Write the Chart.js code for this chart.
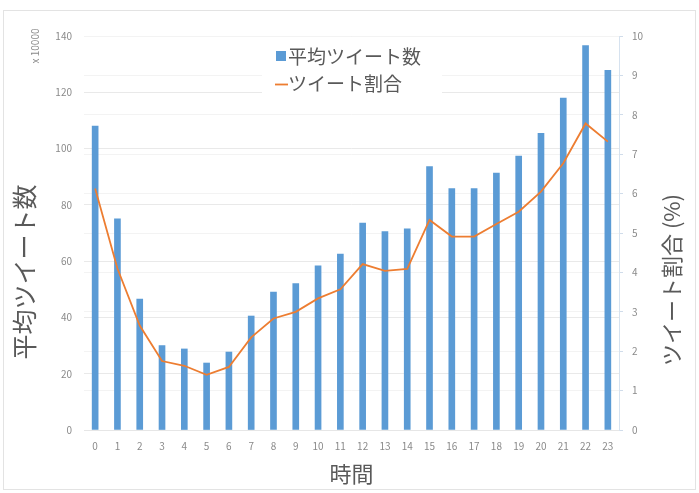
<!DOCTYPE html>
<html>
<head>
<meta charset="utf-8">
<script src="https://cdn.jsdelivr.net/npm/chart.js@4/dist/chart.umd.min.js"></script>
<style>
html,body{margin:0;padding:0;background:#fff;}
#wrap{width:699px;height:493px;}
</style>
</head>
<body>
<div id="wrap"><canvas id="c" width="699" height="493"></canvas></div>
<script>
const hours = ['0','1','2','3','4','5','6','7','8','9','10','11','12','13','14','15','16','17','18','19','20','21','22','23'];
const avgTweets = [108, 75, 46.5, 30, 28.8, 23.8, 27.7, 40.5, 49, 52, 58.3, 62.5, 73.5, 70.5, 71.5, 93.6, 85.8, 85.8, 91.3, 97.3, 105.4, 117.9, 136.6, 127.8];
const tweetShare = [6.13, 4.1, 2.65, 1.75, 1.63, 1.4, 1.6, 2.35, 2.83, 3.0, 3.34, 3.57, 4.21, 4.04, 4.09, 5.33, 4.91, 4.91, 5.23, 5.54, 6.05, 6.77, 7.78, 7.32];
const seriesNames = ['平均ツイート数', 'ツイート割合'];
const leftTitle = '平均ツイート数';
const rightTitle = 'ツイート割合 (%)';
const xTitle = '時間';
const unitLabel = 'x 10000';

const FONT = "'Noto Sans CJK JP', 'Noto Sans', sans-serif";
const BLUE = '#5B9BD5';
const ORANGE = '#ED7D31';
const TXT = '#595959';
const TICK = '#8a8a8a';

const decor = {
  id: 'decor',
  beforeDraw(chart) {
    const ctx = chart.ctx;
    ctx.save();
    ctx.fillStyle = '#fff';
    ctx.fillRect(0, 0, chart.width, chart.height);
    ctx.strokeStyle = '#e3e3e3';
    ctx.lineWidth = 1;
    ctx.strokeRect(3.5, 10.5, 692, 479);
    ctx.restore();
  },
  afterDraw(chart) {
    const ctx = chart.ctx;
    ctx.save();
    ctx.fillStyle = TXT;
    ctx.textAlign = 'center';
    ctx.textBaseline = 'middle';
    ctx.save();
    ctx.translate(24, 272);
    ctx.rotate(-Math.PI / 2);
    ctx.font = '25px ' + FONT;
    ctx.fillText(leftTitle, 0, 0);
    ctx.restore();
    ctx.save();
    ctx.translate(672, 280);
    ctx.rotate(-Math.PI / 2);
    ctx.font = '22px ' + FONT;
    ctx.fillText(rightTitle, 0, 0);
    ctx.restore();
    ctx.save();
    ctx.translate(35, 46);
    ctx.rotate(-Math.PI / 2);
    ctx.fillStyle = TICK;
    ctx.font = '10px ' + FONT;
    ctx.fillText(unitLabel, 0, 0);
    ctx.restore();
    // legend
    ctx.fillStyle = '#fff';
    ctx.fillRect(262, 39, 180, 58);
    ctx.fillStyle = BLUE;
    ctx.fillRect(276, 51, 10, 10);
    ctx.strokeStyle = ORANGE;
    ctx.lineWidth = 1.8;
    ctx.beginPath();
    ctx.moveTo(275, 84.5);
    ctx.lineTo(288, 84.5);
    ctx.stroke();
    ctx.fillStyle = TXT;
    ctx.textAlign = 'left';
    ctx.font = '19px ' + FONT;
    ctx.fillText(seriesNames[0], 288, 57);
    ctx.fillText(seriesNames[1], 288, 84);
    ctx.restore();
  }
};

new Chart(document.getElementById('c'), {
  data: {
    labels: hours,
    datasets: [
      {
        type: 'line',
        label: seriesNames[1],
        data: tweetShare,
        yAxisID: 'y2',
        borderColor: ORANGE,
        backgroundColor: ORANGE,
        borderWidth: 1.8,
        pointRadius: 0,
        tension: 0,
        order: 0
      },
      {
        type: 'bar',
        label: seriesNames[0],
        data: avgTweets,
        yAxisID: 'y',
        backgroundColor: BLUE,
        barThickness: 6,
        order: 1
      }
    ]
  },
  options: {
    responsive: false,
    animation: false,
    devicePixelRatio: 1,
    layout: { padding: { left: 0, right: 0, top: 36, bottom: 0 } },
    plugins: { legend: { display: false }, tooltip: { enabled: false } },
    scales: {
      x: {
        offset: true,
        grid: { display: false, drawTicks: false },
        border: { display: true, color: '#e6e6e6' },
        ticks: { color: TICK, font: { family: FONT, size: 10 }, padding: 10, maxRotation: 0, autoSkip: false },
        title: { display: true, text: xTitle, color: TXT, font: { family: FONT, size: 22 }, padding: { top: 0, bottom: 6 } },
        afterFit(s) { s.height = 63; }
      },
      y: {
        position: 'left',
        min: 0, max: 140,
        ticks: { stepSize: 20, color: TICK, font: { family: FONT, size: 10 }, padding: 12 },
        grid: { color: '#e9e9e9', drawTicks: false },
        border: { display: false },
        afterFit(s) { s.width = 84; }
      },
      y2: {
        position: 'right',
        min: 0, max: 10,
        ticks: { stepSize: 1, color: TICK, font: { family: FONT, size: 10 }, padding: 9 },
        grid: { color: '#f3f3f3', tickColor: '#d0dcea', tickLength: 4 },
        border: { display: true, color: '#d6e2ef' },
        afterFit(s) { s.width = 80; }
      }
    }
  },
  plugins: [decor]
});
</script>
</body>
</html>
